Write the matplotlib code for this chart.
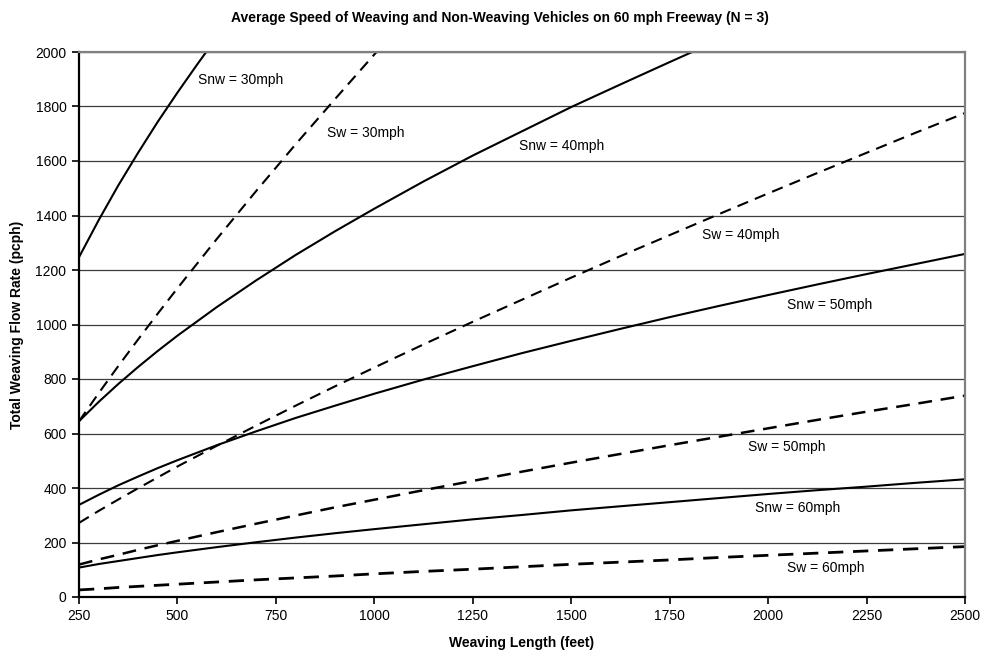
import matplotlib
matplotlib.use("Agg")
import matplotlib.pyplot as plt

plt.rcParams['font.family'] = ['Liberation Sans', 'DejaVu Sans']

# Weaving length (feet)
length = [250, 300, 350, 400, 450, 500, 600, 700, 800, 900, 1000, 1125,
          1250, 1375, 1500, 1625, 1750, 1875, 2000, 2125, 2250, 2375, 2500]
length_snw30 = [250, 300, 350, 400, 450, 500, 550, 600]

# Total weaving flow rate (pcph)
snw30 = [1247, 1383, 1511, 1630, 1744, 1851, 1954, 2054]
sw30 = [645, 748, 848, 945, 1040, 1133, 1314, 1490, 1661, 1827, 1991, 2191]
snw40 = [645, 716, 782, 844, 903, 959, 1064, 1162, 1255, 1342, 1425, 1525,
         1620, 1709, 1798, 1881, 1963, 2044]
sw40 = [272, 316, 358, 399, 439, 479, 555, 629, 702, 773, 842, 927, 1010,
        1091, 1172, 1251, 1328, 1405, 1481, 1556, 1630, 1704, 1776]
snw50 = [338, 375, 410, 442, 473, 502, 557, 608, 657, 702, 746, 798, 847,
         895, 940, 984, 1027, 1068, 1108, 1147, 1185, 1222, 1259]
sw50 = [119, 138, 155, 173, 190, 206, 238, 269, 299, 329, 357, 392, 426,
        460, 493, 525, 557, 588, 619, 650, 680, 709, 739]
snw60 = [108, 121, 132, 143, 154, 164, 183, 201, 218, 234, 249, 267, 285,
         301, 318, 333, 348, 363, 378, 392, 405, 419, 432]
sw60 = [26, 30, 35, 39, 43, 47, 55, 63, 70, 77, 85, 94, 102, 111, 120, 128,
        136, 145, 153, 161, 169, 177, 185]

labels = ["Snw = 30mph", "Sw = 30mph", "Snw = 40mph", "Sw = 40mph",
          "Snw = 50mph", "Sw = 50mph", "Snw = 60mph", "Sw = 60mph"]

xticks = [250, 500, 750, 1000, 1250, 1500, 1750, 2000, 2250, 2500]
yticks = list(range(0, 2001, 200))

fig = plt.figure(figsize=(9.84, 6.6), dpi=100)
ax = fig.add_axes([79/984, 1-597/660, (965-79)/984, (597-52)/660])

solid = dict(color='black', lw=1.5, solid_capstyle='butt',
             solid_joinstyle='round')
dashed = dict(color='black', lw=1.5, dashes=(5.5, 3.5))

ax.plot(length_snw30, snw30, **solid)
ax.plot(length[:len(sw30)], sw30, **dashed)
ax.plot(length[:len(snw40)], snw40, **solid)
ax.plot(length, sw40, **dashed)
ax.plot(length, snw50, **solid)
ax.plot(length, sw50, **dict(dashed, lw=1.8))
ax.plot(length, snw60, **solid)
ax.plot(length, sw60, **dict(dashed, lw=2.0))

ax.set_xlim(250, 2500)
ax.set_ylim(0, 2000)
ax.set_xticks(xticks)
ax.set_yticks(yticks)
ax.tick_params(axis='both', direction='out', length=5, width=1.2,
               labelsize=10, colors='black', pad=4)
ax.yaxis.grid(True, color='#3c3c3c', lw=0.9)
ax.set_axisbelow(True)

for side in ['left', 'bottom']:
    ax.spines[side].set_color('black')
    ax.spines[side].set_linewidth(1.6)
for side in ['top', 'right']:
    ax.spines[side].set_color('#808080')
    ax.spines[side].set_linewidth(1.6)

positions = [(552, 1897), (880, 1703), (1367, 1655), (1832, 1328),
             (2048, 1072), (1949, 552), (1967, 327), (2048, 106)]
for (px, py), t in zip(positions, labels):
    ax.text(px, py, t, fontsize=10, ha='left', va='center')

fig.text(500/984, 1-18/660,
         "Average Speed of Weaving and Non-Weaving Vehicles on 60 mph Freeway (N = 3)",
         ha='center', va='center', fontsize=10, fontweight='bold')
fig.text(522/984, 1-643/660, "Weaving Length (feet)", ha='center',
         va='center', fontsize=10, fontweight='bold')
fig.text(17/984, 1-325/660, "Total Weaving Flow Rate (pcph)", ha='center',
         va='center', rotation=90, fontsize=10, fontweight='bold')

fig.savefig("out.png", dpi=100)
